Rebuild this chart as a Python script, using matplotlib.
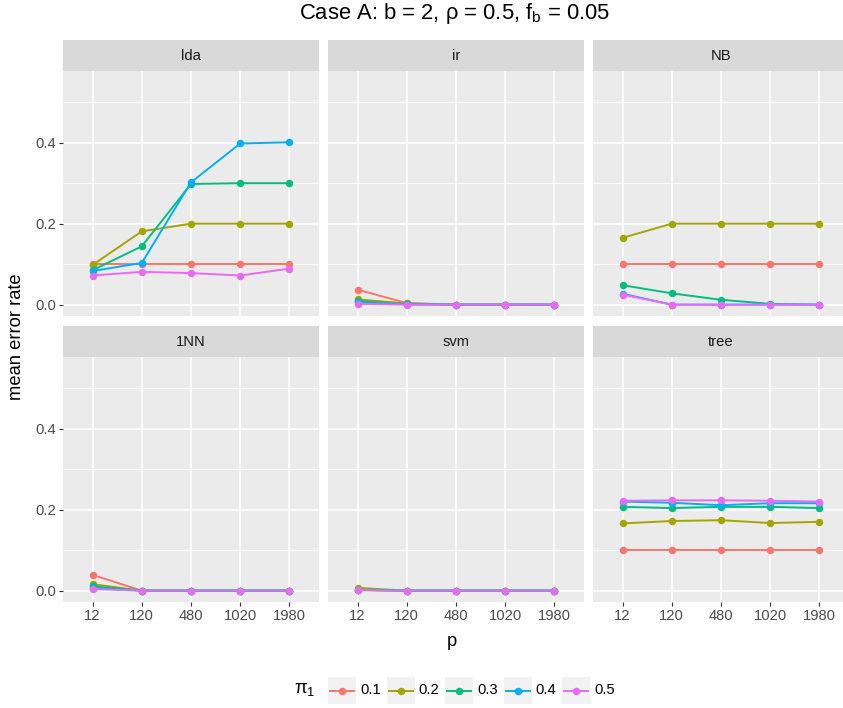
import matplotlib
matplotlib.use("Agg")
import matplotlib.pyplot as plt
from matplotlib.patches import Rectangle

plt.rcParams['font.family'] = ['Liberation Sans', 'DejaVu Sans']
plt.rcParams['mathtext.fontset'] = 'custom'
plt.rcParams['mathtext.rm'] = 'Liberation Sans'
plt.rcParams['mathtext.it'] = 'Liberation Sans:italic'

# categories
p_labels = ['12', '120', '480', '1020', '1980']
pi_levels = ['0.1', '0.2', '0.3', '0.4', '0.5']
pi_colors = ['#F8766D', '#A3A500', '#00BF7D', '#00B0F6', '#E76BF3']
methods = ['lda', 'ir', 'NB', '1NN', 'svm', 'tree']

# mean error rate, one row per pi_1 level (0.1 .. 0.5), columns follow p_labels
lda = [[0.100, 0.100, 0.100, 0.100, 0.100],
       [0.098, 0.181, 0.200, 0.200, 0.200],
       [0.085, 0.144, 0.298, 0.300, 0.300],
       [0.083, 0.103, 0.302, 0.398, 0.401],
       [0.072, 0.081, 0.078, 0.072, 0.089]]
ir = [[0.037, 0.004, 0.000, 0.000, 0.000],
      [0.013, 0.003, 0.000, 0.000, 0.000],
      [0.009, 0.001, 0.000, 0.000, 0.000],
      [0.006, 0.001, 0.000, 0.000, 0.000],
      [0.002, 0.000, 0.000, 0.000, 0.000]]
nb = [[0.100, 0.100, 0.100, 0.100, 0.100],
      [0.165, 0.200, 0.200, 0.200, 0.200],
      [0.048, 0.028, 0.012, 0.002, 0.000],
      [0.027, 0.000, 0.000, 0.000, 0.000],
      [0.025, 0.000, 0.000, 0.000, 0.000]]
nn1 = [[0.039, 0.000, 0.000, 0.000, 0.000],
       [0.016, 0.000, 0.000, 0.000, 0.000],
       [0.011, 0.000, 0.000, 0.000, 0.000],
       [0.007, 0.000, 0.000, 0.000, 0.000],
       [0.004, 0.000, 0.000, 0.000, 0.000]]
svm = [[0.002, 0.000, 0.000, 0.000, 0.000],
       [0.007, 0.000, 0.000, 0.000, 0.000],
       [0.002, 0.000, 0.000, 0.000, 0.000],
       [0.002, 0.000, 0.000, 0.000, 0.000],
       [0.001, 0.000, 0.000, 0.000, 0.000]]
tree = [[0.100, 0.100, 0.100, 0.100, 0.100],
        [0.166, 0.172, 0.174, 0.167, 0.170],
        [0.207, 0.204, 0.207, 0.207, 0.204],
        [0.220, 0.217, 0.211, 0.216, 0.216],
        [0.222, 0.223, 0.223, 0.222, 0.220]]
method_data = [lda, ir, nb, nn1, svm, tree]

W, H = 843, 708
fig = plt.figure(figsize=(W / 100, H / 100), dpi=100)


def px(x0, y0, w, h):
    return [x0 / W, 1 - (y0 + h) / H, w / W, h / H]


col_x = [63, 328, 593]
panel_w = 256
row_strip = [40, 326]
strip_h = 31
panel_h = 245
xs = list(range(len(p_labels)))
small = 10.6
big = 13.2

for k, (name, data) in enumerate(zip(methods, method_data)):
    r, c = divmod(k, 3)
    top = row_strip[r] + strip_h
    ax = fig.add_axes(px(col_x[c], top, panel_w, panel_h))
    ax.set_facecolor('#EBEBEB')
    for s in ax.spines.values():
        s.set_visible(False)
    ax.set_xlim(-0.6, 4.6)
    ax.set_ylim(-0.028, 0.577)
    ax.set_xticks(xs)
    ax.set_yticks([0.0, 0.2, 0.4])
    ax.set_yticks([0.1, 0.3, 0.5], minor=True)
    ax.grid(True, which='major', color='white', lw=1.1)
    ax.grid(True, which='minor', axis='y', color='white', lw=0.55)
    ax.set_axisbelow(True)
    ax.tick_params(which='minor', length=0)
    ax.tick_params(which='major', length=3, width=0.8, color='#333333',
                   labelsize=small, labelcolor='#4D4D4D', pad=2)
    if r == 1:
        ax.set_xticklabels(p_labels)
    else:
        ax.tick_params(axis='x', length=0, labelbottom=False)
    if c == 0:
        ax.set_yticklabels(['0.0', '0.2', '0.4'])
    else:
        ax.tick_params(axis='y', length=0, labelleft=False)
    for series, col in zip(data, pi_colors):
        ax.plot(xs, series, color=col, lw=1.4, marker='o', ms=5.4,
                markeredgewidth=0, clip_on=False, zorder=3)

    sax = fig.add_axes(px(col_x[c], row_strip[r], panel_w, strip_h))
    sax.set_facecolor('#D9D9D9')
    sax.set_xticks([])
    sax.set_yticks([])
    for s in sax.spines.values():
        s.set_visible(False)
    sax.text(0.5, 0.5, name, ha='center', va='center', fontsize=small,
             color='#1A1A1A', transform=sax.transAxes)

fig.text(455 / W, 1 - 14 / H, r"Case A: b = 2, ρ = 0.5, $\mathregular{f_b}$ = 0.05",
         ha='center', va='center', fontsize=15.8)
fig.text(452 / W, 1 - 642 / H, 'p', ha='center', va='center', fontsize=big)
fig.text(17 / W, 1 - 337 / H, 'mean error rate', ha='center', va='center',
         rotation=90, fontsize=big)

# legend
lax = fig.add_axes([0, 0, 1, 1], zorder=-1)
lax.set_xlim(0, W)
lax.set_ylim(H, 0)
lax.axis('off')
lax.text(305, 690, r"$\mathregular{π_1}$", ha='center', va='center', fontsize=big)
for i, (lab, col) in enumerate(zip(pi_levels, pi_colors)):
    x0 = 328 + i * 58.5
    lax.add_patch(Rectangle((x0, 677), 28, 27, facecolor='#F2F2F2', edgecolor='none'))
    lax.plot([x0 + 2, x0 + 26], [690.5, 690.5], color=col, lw=1.4)
    lax.plot([x0 + 14], [690.5], color=col, marker='o', ms=5.4, markeredgewidth=0)
    lax.text(x0 + 32, 690.5, lab, ha='left', va='center', fontsize=small)

fig.savefig('out.png', dpi=100)
